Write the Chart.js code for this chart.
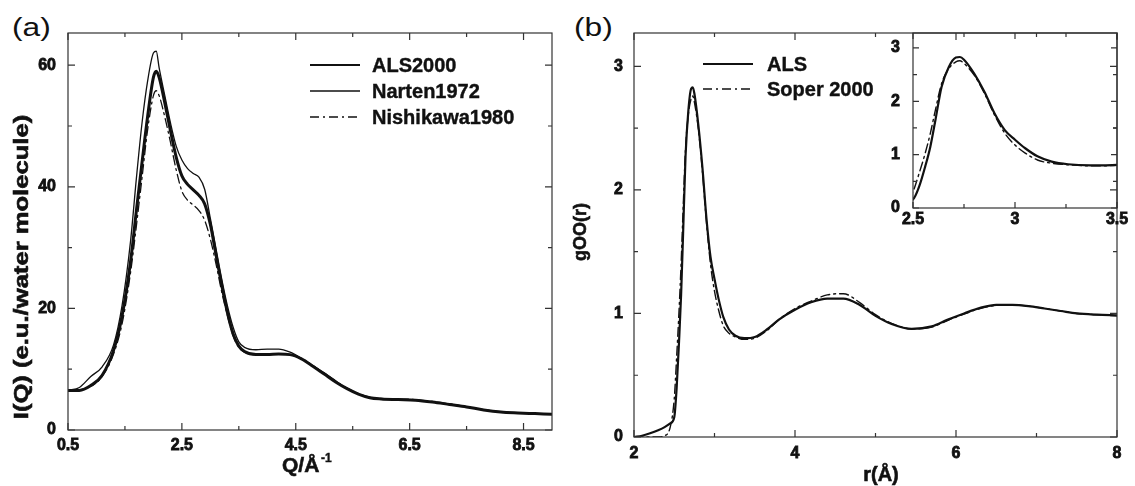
<!DOCTYPE html>
<html>
<head>
<meta charset="utf-8">
<title>Water X-ray structure factor and gOO(r)</title>
<script src="https://cdn.jsdelivr.net/npm/chart.js@4.4.1/dist/chart.umd.min.js"></script>
<style>
  html, body { margin: 0; padding: 0; background: #fff; }
  body { width: 1135px; height: 486px; position: relative; overflow: hidden; font-family: "Liberation Sans", Arial, Helvetica, sans-serif; }
  .box { position: absolute; }
  .tag { position: absolute; font-family: "Liberation Sans", Arial, sans-serif; font-size: 26px; color: #111; transform: scaleX(1.22); transform-origin: left top; line-height: 1; }
</style>
</head>
<body>
<div class="tag" style="left:12px; top:14px;">(a)</div>
<div class="tag" style="left:574px; top:14px;">(b)</div>
<div class="box" style="left:0; top:0; width:565px; height:486px;"><canvas id="chart-a"></canvas></div>
<div class="box" style="left:565px; top:0; width:570px; height:486px;"><canvas id="chart-b"></canvas></div>
<div class="box" style="left:880px; top:0; width:255px; height:240px;"><canvas id="chart-inset"></canvas></div>
<script>
(function () {
  'use strict';

  // (a) I(Q) vs Q
  const qA = [0.5, 0.7, 0.9, 1.1, 1.3, 1.45, 1.6, 1.7, 1.8, 1.9, 2.0, 2.05, 2.1, 2.2, 2.3, 2.4, 2.5, 2.6,
    2.7, 2.8, 2.9, 3.0, 3.1, 3.2, 3.3, 3.4, 3.5, 3.6, 3.8, 4.0, 4.2, 4.4, 4.6, 4.8, 5.0, 5.2, 5.4,
    5.6, 5.8, 6.0, 6.3, 6.6, 6.9, 7.2, 7.5, 7.8, 8.1, 8.4, 8.7, 9.0];
  const iALS2000 = [6.5, 6.5, 7.3, 9.0, 13.1, 18.8, 27.8, 36.0, 44.0, 51.7, 58.0, 59.0, 58.0, 53.8, 49.2, 44.9, 41.8, 40.4,
    39.5, 38.6, 37.2, 33.8, 28.8, 23.8, 19.3, 15.8, 13.8, 12.9, 12.4, 12.4, 12.5, 12.4, 11.7, 10.5, 9.2, 7.9, 6.8,
    5.9, 5.3, 5.1, 5.0, 4.9, 4.6, 4.2, 3.8, 3.3, 2.95, 2.8, 2.7, 2.6];
  const iNarten1972 = [6.5, 7.0, 8.8, 10.4, 14.0, 20.5, 31.2, 41.3, 50.5, 57.5, 62.0, 62.3, 59.6, 55.0, 50.5, 46.7, 44.4, 43.0,
    42.2, 41.6, 39.6, 34.8, 29.8, 24.8, 20.4, 16.9, 14.5, 13.6, 13.2, 13.3, 13.3, 12.8, 11.8, 10.6, 9.4, 8.1, 6.8,
    5.9, 5.3, 5.1, 5.0, 4.9, 4.6, 4.2, 3.8, 3.3, 2.95, 2.8, 2.7, 2.6];
  const iNishikawa1980 = [6.5, 6.6, 7.2, 8.8, 12.5, 17.5, 26.0, 33.5, 41.5, 49.5, 55.0, 55.8, 55.0, 51.5, 47.3, 42.8, 39.3, 37.8,
    37.0, 36.1, 34.5, 31.4, 27.3, 22.7, 18.8, 15.5, 13.6, 12.8, 12.4, 12.4, 12.5, 12.4, 11.7, 10.6, 9.3, 8.0, 6.9,
    6.0, 5.4, 5.2, 5.1, 5.0, 4.7, 4.3, 3.85, 3.35, 3.0, 2.8, 2.7, 2.65];
  const xTicksA = [0.5, 2.5, 4.5, 6.5, 8.5];
  const xMinorA = [1.5, 3.5, 5.5, 7.5];
  const yTicksA = [0, 20, 40, 60];
  const yMinorA = [10, 30, 50];

  // (b) gOO(r) vs r
  const rB = [2.0, 2.1, 2.2, 2.3, 2.38, 2.45, 2.5, 2.53, 2.56, 2.585, 2.61, 2.64, 2.675, 2.71, 2.73, 2.75, 2.8, 2.85,
    2.9, 2.95, 3.0, 3.05, 3.11, 3.18, 3.26, 3.37, 3.5, 3.65, 3.8, 4.0, 4.2, 4.4, 4.6, 4.8, 5.0, 5.2, 5.45, 5.7,
    5.9, 6.1, 6.3, 6.5, 6.7, 6.9, 7.1, 7.3, 7.5, 7.75, 8.0];
  const gALS = [0, 0.01, 0.03, 0.055, 0.08, 0.11, 0.16, 0.40, 0.78, 1.15, 1.65, 2.27, 2.64, 2.82, 2.83, 2.78, 2.52, 2.18,
    1.77, 1.46, 1.28, 1.12, 0.97, 0.87, 0.82, 0.80, 0.81, 0.87, 0.95, 1.03, 1.09, 1.12, 1.12, 1.07, 0.98, 0.915, 0.875, 0.895,
    0.95, 1.0, 1.045, 1.07, 1.07, 1.06, 1.04, 1.02, 1.0, 0.99, 0.985];
  const gSoper2000 = [0, 0, 0, 0, 0.01, 0.08, 0.31, 0.65, 1.03, 1.40, 1.84, 2.33, 2.61, 2.74, 2.76, 2.71, 2.49, 2.15,
    1.74, 1.40, 1.18, 1.03, 0.90, 0.84, 0.81, 0.79, 0.80, 0.86, 0.95, 1.04, 1.10, 1.15, 1.16, 1.09, 0.99, 0.92, 0.875, 0.89,
    0.945, 0.995, 1.04, 1.065, 1.07, 1.06, 1.04, 1.02, 1.0, 0.99, 0.98];
  const xTicksB = [2, 4, 6, 8];
  const xMinorB = [3, 5, 7];
  const yTicksB = [0, 1, 2, 3];
  const yMinorB = [0.5, 1.5, 2.5];
  const xTicksInset = [2.5, 3, 3.5];
  const xMinorInset = [2.75, 3.25];

  const FONT = '"Liberation Sans", Arial, Helvetica, sans-serif';
  Chart.defaults.font.family = FONT;
  Chart.defaults.font.weight = 'bold';
  Chart.defaults.color = '#111';

  const pts = (xs, ys) => xs.map((x, i) => ({ x: x, y: ys[i] }));
  const fixTicks = (vals) => (s) => { s.ticks = vals.map(v => ({ value: v })); };

  // box round the plot with inward ticks on all four sides
  const frameTicks = {
    id: 'frameTicks',
    afterDatasetsDraw(chart, args, o) {
      const { ctx, chartArea: a, scales: { x, y } } = chart;
      ctx.save();
      ctx.strokeStyle = '#333';
      ctx.lineWidth = 1.2;
      ctx.strokeRect(a.left, a.top, a.right - a.left, a.bottom - a.top);
      const mark = (scale, values, len) => {
        values.forEach(v => {
          const p = scale.getPixelForValue(v);
          ctx.beginPath();
          if (scale.isHorizontal()) {
            ctx.moveTo(p, a.bottom); ctx.lineTo(p, a.bottom - len);
            ctx.moveTo(p, a.top); ctx.lineTo(p, a.top + len);
          } else {
            ctx.moveTo(a.left, p); ctx.lineTo(a.left + len, p);
            ctx.moveTo(a.right, p); ctx.lineTo(a.right - len, p);
          }
          ctx.stroke();
        });
      };
      mark(x, o.xMajor, o.major);
      mark(x, o.xMinor, o.minor);
      mark(y, o.yMajor, o.major);
      mark(y, o.yMinor, o.minor);
      ctx.restore();
    }
  };

  const insideLegend = {
    id: 'insideLegend',
    afterDraw(chart, args, o) {
      if (!o.show) return;
      const ctx = chart.ctx;
      ctx.save();
      chart.data.datasets.forEach((ds, i) => {
        const y = o.y + i * o.rowGap;
        ctx.beginPath();
        ctx.setLineDash(ds.borderDash || []);
        ctx.lineWidth = Math.min(ds.borderWidth, o.maxWidth);
        ctx.strokeStyle = ds.borderColor;
        ctx.moveTo(o.x, y);
        ctx.lineTo(o.x + o.len, y);
        ctx.stroke();
        ctx.setLineDash([]);
        ctx.fillStyle = '#111';
        ctx.strokeStyle = '#111';
        ctx.lineWidth = 0.4;
        ctx.font = 'bold ' + o.size + 'px ' + FONT;
        ctx.textBaseline = 'middle';
        ctx.fillText(ds.label, o.x + o.len + o.gap, y + 1);
        ctx.strokeText(ds.label, o.x + o.len + o.gap, y + 1);
      });
      ctx.restore();
    }
  };

  // axis titles (rotated y title, x title with a raised exponent)
  const axisTitles = {
    id: 'axisTitles',
    afterDraw(chart, args, o) {
      if (!o.items) return;
      const ctx = chart.ctx;
      o.items.forEach(t => {
        ctx.save();
        ctx.translate(t.x, t.y);
        if (t.rotate) ctx.rotate(-Math.PI / 2);
        ctx.scale(t.stretch || 1, 1);
        ctx.font = 'bold ' + t.size + 'px ' + FONT;
        ctx.fillStyle = '#111';
        ctx.strokeStyle = '#111';
        ctx.lineWidth = t.stroke || 0.6;
        ctx.textAlign = t.align || 'center';
        ctx.textBaseline = t.baseline || 'alphabetic';
        ctx.fillText(t.text, 0, 0);
        ctx.strokeText(t.text, 0, 0);
        ctx.restore();
      });
    }
  };

  function axis(min, max, majors, opts) {
    return Object.assign({
      type: 'linear',
      min: min,
      max: max,
      grid: { display: false, drawTicks: false },
      border: { display: false },
      afterBuildTicks: fixTicks(majors),
      ticks: {
        autoSkip: false,
        maxRotation: 0,
        color: '#111',
        textStrokeColor: '#111',
        textStrokeWidth: 0.8,
        font: { family: FONT, size: 16, weight: 'bold' },
        callback: v => String(v)
      }
    }, opts);
  }

  const lineEls = {
    point: { radius: 0, hoverRadius: 0 },
    line: { cubicInterpolationMode: 'monotone', borderCapStyle: 'round', borderJoinStyle: 'round' }
  };

  const chartA = document.getElementById('chart-a');
  if (chartA && window.Chart) {
    const xa = axis(0.5, 9, xTicksA, { afterFit: s => { s.height = 56; } });
    xa.ticks.padding = 6;
    const ya = axis(0, 65.3, yTicksA, { afterFit: s => { s.width = 68; } });
    ya.ticks.padding = 12;

    new Chart(chartA, {
      type: 'line',
      data: {
        datasets: [
          { label: 'ALS2000', data: pts(qA, iALS2000), borderColor: '#111', borderWidth: 3 },
          { label: 'Narten1972', data: pts(qA, iNarten1972), borderColor: '#111', borderWidth: 1.3 },
          { label: 'Nishikawa1980', data: pts(qA, iNishikawa1980), borderColor: '#111', borderWidth: 1.3, borderDash: [9, 4, 2, 4] }
        ]
      },
      options: {
        responsive: true,
        maintainAspectRatio: false,
        animation: false,
        layout: { padding: { top: 33, right: 13, left: 0, bottom: 0 } },
        elements: lineEls,
        plugins: {
          legend: { display: false },
          tooltip: { enabled: false },
          frameTicks: { xMajor: xTicksA, xMinor: xMinorA, yMajor: yTicksA, yMinor: yMinorA, major: 7, minor: 4 },
          insideLegend: { show: true, x: 310, y: 65, rowGap: 26, len: 50, gap: 12, size: 20, maxWidth: 2 },
          axisTitles: {
            items: [
              { text: 'I(Q) (e.u./water molecule)', x: 22, y: 267, size: 20, stretch: 1.28, rotate: true, baseline: 'middle' },
              { text: 'Q/Å', x: 282, y: 472, size: 21, align: 'left' },
              { text: '-1', x: 321, y: 462, size: 12, align: 'left', stroke: 0.4 }
            ]
          }
        },
        scales: { x: xa, y: ya }
      },
      plugins: [frameTicks, insideLegend, axisTitles]
    });
  }

  const chartB = document.getElementById('chart-b');
  if (chartB && window.Chart) {
    const xb = axis(2, 8, xTicksB, { afterFit: s => { s.height = 49; } });
    xb.ticks.padding = 7;
    const yb = axis(0, 3.27, yTicksB, { afterFit: s => { s.width = 69; } });
    yb.ticks.padding = 11;

    new Chart(chartB, {
      type: 'line',
      data: {
        datasets: [
          { label: 'ALS', data: pts(rB, gALS), borderColor: '#111', borderWidth: 2.2 },
          { label: 'Soper 2000', data: pts(rB, gSoper2000), borderColor: '#111', borderWidth: 1.4, borderDash: [9, 4, 2, 4] }
        ]
      },
      options: {
        responsive: true,
        maintainAspectRatio: false,
        animation: false,
        layout: { padding: { top: 33, right: 18, left: 0, bottom: 0 } },
        elements: lineEls,
        plugins: {
          legend: { display: false },
          tooltip: { enabled: false },
          frameTicks: { xMajor: xTicksB, xMinor: xMinorB, yMajor: yTicksB, yMinor: yMinorB, major: 7, minor: 4 },
          insideLegend: { show: true, x: 138, y: 64, rowGap: 25, len: 50, gap: 14, size: 20, maxWidth: 3 },
          axisTitles: {
            items: [
              { text: 'gOO(r)', x: 16, y: 232, size: 18, rotate: true, baseline: 'middle' },
              { text: 'r(Å)', x: 316, y: 481, size: 20 }
            ]
          }
        },
        scales: { x: xb, y: yb }
      },
      plugins: [frameTicks, insideLegend, axisTitles]
    });
  }

  const chartInset = document.getElementById('chart-inset');
  if (chartInset && window.Chart) {
    const xi = axis(2.5, 3.5, xTicksInset, { afterFit: s => { s.height = 32; } });
    xi.ticks.padding = 2;
    const yi = axis(0, 3.28, yTicksB, { afterFit: s => { s.width = 33; } });
    yi.ticks.padding = 13;

    new Chart(chartInset, {
      type: 'line',
      data: {
        datasets: [
          { label: 'ALS', data: pts(rB, gALS), borderColor: '#111', borderWidth: 2.2 },
          { label: 'Soper 2000', data: pts(rB, gSoper2000), borderColor: '#111', borderWidth: 1.4, borderDash: [9, 4, 2, 4] }
        ]
      },
      options: {
        responsive: true,
        maintainAspectRatio: false,
        animation: false,
        layout: { padding: { top: 33, right: 18, left: 0, bottom: 0 } },
        elements: lineEls,
        plugins: {
          legend: { display: false },
          tooltip: { enabled: false },
          frameTicks: { xMajor: xTicksInset, xMinor: xMinorInset, yMajor: yTicksB, yMinor: yMinorB, major: 6, minor: 4 },
          insideLegend: { show: false },
          axisTitles: { items: [] }
        },
        scales: { x: xi, y: yi }
      },
      plugins: [frameTicks, insideLegend, axisTitles]
    });
  }
})();
</script>
</body>
</html>
